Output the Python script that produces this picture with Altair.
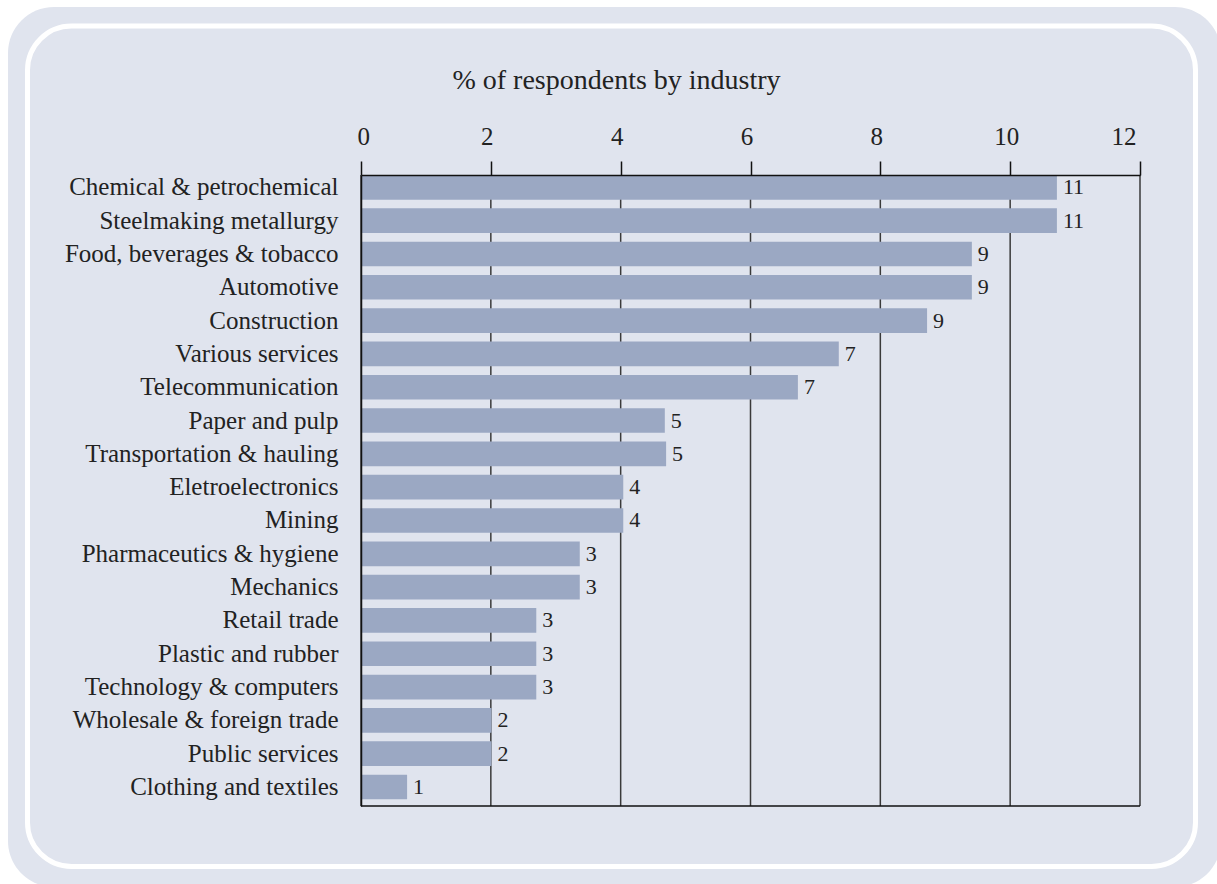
import altair as alt
import pandas as pd

industries = [
    "Chemical & petrochemical", "Steelmaking metallurgy", "Food, beverages & tobacco",
    "Automotive", "Construction", "Various services", "Telecommunication",
    "Paper and pulp", "Transportation & hauling", "Eletroelectronics", "Mining",
    "Pharmaceutics & hygiene", "Mechanics", "Retail trade", "Plastic and rubber",
    "Technology & computers", "Wholesale & foreign trade", "Public services",
    "Clothing and textiles",
]
values = [10.72, 10.72, 9.41, 9.41, 8.72, 7.36, 6.73, 4.68, 4.70, 4.04, 4.04,
          3.37, 3.37, 2.70, 2.70, 2.70, 2.01, 2.01, 0.71]
value_labels = [11, 11, 9, 9, 9, 7, 7, 5, 5, 4, 4, 3, 3, 3, 3, 3, 2, 2, 1]
tick_values = [0, 2, 4, 6, 8, 10, 12]

FONT = "Liberation Serif"
BG = "#e0e4ee"
BAR = "#9ba8c3"
INK = "#222222"

df = pd.DataFrame({"industry": industries, "value": values, "label": value_labels})
ticks_df = pd.DataFrame({"t": tick_values})
one = pd.DataFrame({"k": [0]})

W, H = 779, 631

x_scale = alt.Scale(domain=[0, 12], nice=False, zero=True)
y_scale = alt.Scale(domain=industries, paddingInner=0.26, paddingOuter=0.1, align=0)

x_axis = alt.Axis(
    orient="top", values=tick_values, format="d", grid=False, tickSize=14, tickWidth=1.5,
    tickColor="#111111", domainColor="#111111", domainWidth=1.5,
    labelFont=FONT, labelFontSize=25, labelColor=INK, labelPadding=17,
    labelBaseline="alphabetic", labelOffset=-4, zindex=1,
    title="% of respondents by industry", titleFont=FONT, titleFontSize=28,
    titleFontWeight="normal", titleColor=INK, titleX=255, titleY=-87,
    titleAlign="center", titleBaseline="alphabetic", titleAnchor="middle",
)
y_axis = alt.Axis(
    orient="left", ticks=False, domain=True, domainColor="#111111", domainWidth=1.5,
    labelFont=FONT, labelFontSize=25, labelColor=INK, labelPadding=23,
    labelLimit=0, title=None, zindex=1,
)

# decorative frame
outer = alt.Chart(one).mark_rect(fill=BG, cornerRadius=46).encode(
    x=alt.value(-353), x2=alt.value(860), y=alt.value(-168), y2=alt.value(712)
)
frame = alt.Chart(one).mark_rect(fill=None, stroke="white", strokeWidth=5, cornerRadius=44).encode(
    x=alt.value(-333.5), x2=alt.value(834.5), y=alt.value(-149), y2=alt.value(691.5)
)

grid = alt.Chart(ticks_df).mark_rule(color="#3a3a3a", strokeWidth=1.5).encode(
    x=alt.X("t:Q", scale=x_scale, axis=x_axis)
)

bottom = alt.Chart(one).mark_rule(color="#111111", strokeWidth=1.5).encode(
    x=alt.datum(0), x2=alt.datum(12), y=alt.value(H)
)

bars = alt.Chart(df).mark_bar(color=BAR).encode(
    x=alt.X("value:Q", scale=x_scale, axis=x_axis),
    y=alt.Y("industry:N", scale=y_scale, sort=industries, axis=y_axis),
)

texts = alt.Chart(df).mark_text(
    align="left", baseline="middle", dx=6, font=FONT, fontSize=22, color=INK
).encode(
    x=alt.X("value:Q", scale=x_scale, axis=x_axis),
    y=alt.Y("industry:N", scale=y_scale, sort=industries, axis=y_axis),
    text="label:N",
)

chart = alt.layer(outer, frame, grid, bars, texts, bottom).properties(
    width=W,
    height=H,
    autosize=alt.AutoSizeParams(type="none"),
    padding={"left": 361, "top": 175, "right": 77, "bottom": 78},
    background="white",
).configure_view(stroke=None, fill=None)

chart.save("out.html", embed_options={"renderer": "svg", "actions": False})
